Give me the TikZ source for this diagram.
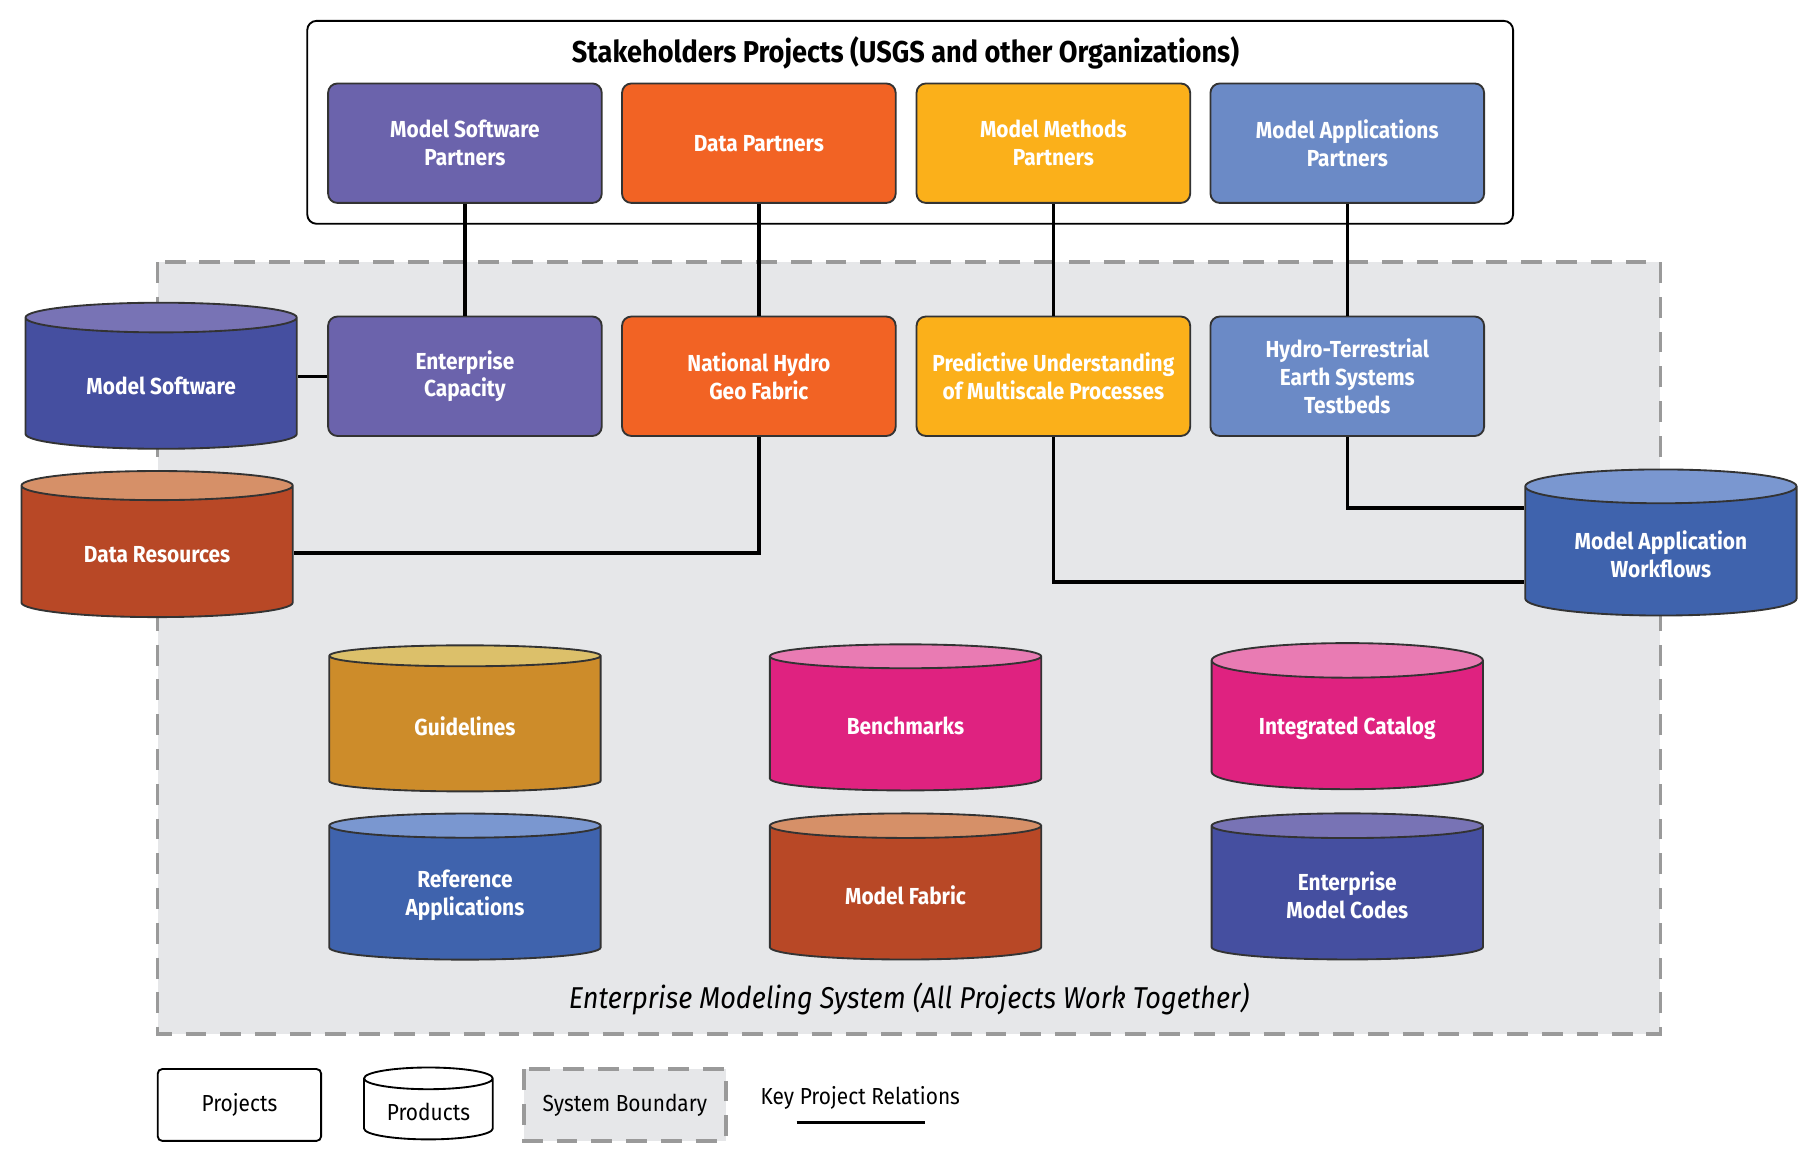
\documentclass[tikz,border=0pt]{standalone}
\usepackage{fontspec}
\setmainfont{Fira Sans}[FakeStretch=0.9]
\usetikzlibrary{shapes.geometric}

\definecolor{projpurple}{HTML}{6B63AC}
\definecolor{projorange}{HTML}{F26324}
\definecolor{projyellow}{HTML}{FBB01A}
\definecolor{projblue}{HTML}{6B8AC6}
\definecolor{navybody}{HTML}{454FA0}
\definecolor{navytop}{HTML}{7873B5}
\definecolor{rustbody}{HTML}{B84826}
\definecolor{rusttop}{HTML}{D69068}
\definecolor{bluebody}{HTML}{3F63AD}
\definecolor{bluetop}{HTML}{7A97D0}
\definecolor{goldbody}{HTML}{CD8C2A}
\definecolor{goldtop}{HTML}{DCC06A}
\definecolor{magbody}{HTML}{DF2280}
\definecolor{magtop}{HTML}{E97BB3}
\definecolor{sysgray}{HTML}{E6E7E9}
\definecolor{dashgray}{HTML}{9A9A9A}

\tikzset{
  proj/.style={draw=black!80, line width=0.8pt, rounded corners=4pt, fill=#1,
    minimum width=118pt, minimum height=51.5pt, align=center, text=white,
    font=\bfseries\fontsize{10}{12}\selectfont},
  prod/.style 2 args={cylinder, shape border rotate=90, aspect=0.18,
    draw=black!80, line width=0.8pt, cylinder uses custom fill,
    cylinder body fill=#1, cylinder end fill=#2,
    minimum width=117pt, minimum height=63pt, align=center, text=white,
    font=\bfseries\fontsize{10}{12}\selectfont},
  rel/.style={line width=1.5pt},
  sysbox/.style={draw=dashgray, fill=sysgray, line width=1.5pt, dash pattern=on 9pt off 6pt},
  legend/.style={font=\fontsize{10}{12}\selectfont}
}

\begin{document}
\begin{tikzpicture}[x=0.5pt,y=-0.5pt]
\useasboundingbox (0,0) rectangle (1568,1002);

\draw[sysbox] (136,226) rectangle (1432,892);
\node[draw, line width=0.8pt, rounded corners=4pt, minimum width=520pt, minimum height=87.5pt] (stake) at (785,105.5) {};
\node[font=\bfseries\fontsize{13}{15}\selectfont] (title) at (781,46) {Stakeholders Projects (USGS and other Organizations)};

\node[proj=projpurple] (msp) at (401,123.5) {Model Software\\Partners};
\node[proj=projorange] (dp) at (654.5,123.5) {Data Partners};
\node[proj=projyellow] (mmp) at (908.5,123.5) {Model Methods\\Partners};
\node[proj=projblue] (map) at (1162,123.5) {Model Applications\\Partners};

\node[proj=projpurple] (ec) at (401,324.5) {Enterprise\\Capacity};
\node[proj=projorange] (nhgf) at (654.5,324.5) {National Hydro\\Geo Fabric};
\node[proj=projyellow] (pump) at (908.5,324.5) {Predictive Understanding\\of Multiscale Processes};
\node[proj=projblue] (hte) at (1162,324.5) {Hydro-Terrestrial\\Earth Systems\\Testbeds};

\node[prod={navybody}{navytop}] (ms) at (139,333) {Model Software};
\node[prod={rustbody}{rusttop}] (dr) at (135.5,478) {Data Resources};
\node[prod={bluebody}{bluetop}] (maw) at (1432.5,478) {Model Application\\Workflows};

\node[prod={goldbody}{goldtop}] (gl) at (401,626) {Guidelines};
\node[prod={magbody}{magtop}] (bm) at (781,626) {Benchmarks};
\node[prod={magbody}{magtop}] (ic) at (1162,628) {Integrated Catalog};
\node[prod={bluebody}{bluetop}] (ra) at (401,772) {Reference\\Applications};
\node[prod={rustbody}{rusttop}] (mf) at (781,772) {Model Fabric};
\node[prod={navybody}{navytop}] (emc) at (1162,772) {Enterprise\\Model Codes};

\node[font=\itshape\fontsize{13}{15}\selectfont] (cap) at (784,862) {Enterprise Modeling System (All Projects Work Together)};

\draw[rel] (msp) -- (ec);
\draw[rel] (dp) -- (nhgf);
\draw[rel] (mmp) -- (pump);
\draw[rel] (map) -- (hte);
\draw[rel] (ms.east |- ec.west) -- (ec.west);
\draw[rel] (nhgf.south) |- ([yshift=0.5pt]dr.east);
\draw[rel] (pump.south) |- ([yshift=-12pt]maw.west);
\draw[rel] (hte.south) |- ([yshift=20pt]maw.west);

\node[legend, draw, line width=0.8pt, rounded corners=2pt, minimum width=70.5pt, minimum height=31pt] (lproj) at (206.5,953) {Projects};
\node[legend, cylinder, shape border rotate=90, aspect=0.22, draw, line width=0.8pt, minimum width=55.5pt, minimum height=31pt] (lprod) at (369.5,959) {Products};
\draw[sysbox] (452,922) rectangle (626,984);
\node[legend] (lsys) at (539,953) {System Boundary};
\node[legend] (lrel) at (742,947) {Key Project Relations};
\coordinate (la) at (687,968);
\coordinate (lb) at (798,968);
\draw[rel] (la) -- (lb);
\end{tikzpicture}
\end{document}
